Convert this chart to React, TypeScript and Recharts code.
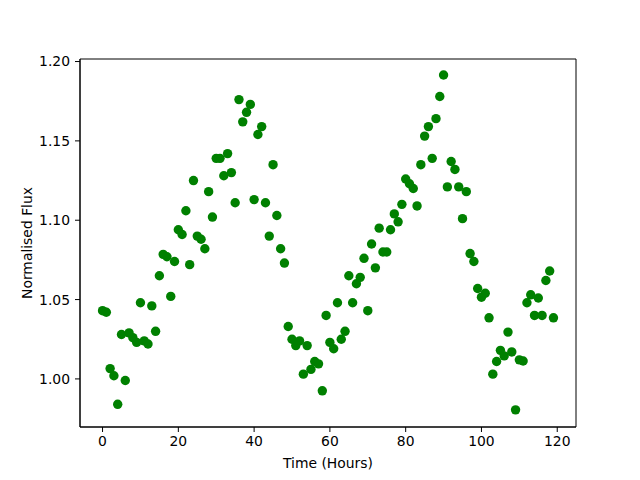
import { ScatterChart, Scatter, XAxis, YAxis, ReferenceArea } from "recharts";

const hours = [
  0, 1, 2, 3, 4, 5, 6, 7, 8, 9, 10, 11, 12, 13, 14, 15, 16, 17, 18, 19,
  20, 21, 22, 23, 24, 25, 26, 27, 28, 29, 30, 31, 32, 33, 34, 35, 36, 37, 38, 39,
  40, 41, 42, 43, 44, 45, 46, 47, 48, 49, 50, 51, 52, 53, 54, 55, 56, 57, 58, 59,
  60, 61, 62, 63, 64, 65, 66, 67, 68, 69, 70, 71, 72, 73, 74, 75, 76, 77, 78, 79,
  80, 81, 82, 83, 84, 85, 86, 87, 88, 89, 90, 91, 92, 93, 94, 95, 96, 97, 98, 99,
  100, 101, 102, 103, 104, 105, 106, 107, 108, 109, 110, 111, 112, 113, 114, 115, 116, 117, 118, 119,
];

const flux = [
  1.043, 1.042, 1.0065, 1.002, 0.984, 1.028, 0.999, 1.029, 1.026, 1.023,
  1.048, 1.024, 1.022, 1.046, 1.03, 1.065, 1.0785, 1.077, 1.052, 1.074,
  1.094, 1.091, 1.106, 1.072, 1.125, 1.09, 1.088, 1.082, 1.118, 1.102,
  1.139, 1.139, 1.128, 1.142, 1.13, 1.111, 1.176, 1.162, 1.168, 1.173,
  1.113, 1.154, 1.159, 1.111, 1.09, 1.135, 1.103, 1.082, 1.073, 1.033,
  1.025, 1.021, 1.024, 1.003, 1.021, 1.006, 1.011, 1.0095, 0.9925, 1.04,
  1.023, 1.019, 1.048, 1.025, 1.03, 1.065, 1.048, 1.06, 1.064, 1.076,
  1.043, 1.085, 1.07, 1.095, 1.08, 1.08, 1.094, 1.104, 1.099, 1.11,
  1.126, 1.123, 1.12, 1.109, 1.135, 1.153, 1.159, 1.139, 1.164, 1.178,
  1.1915, 1.121, 1.137, 1.132, 1.121, 1.101, 1.118, 1.079, 1.074, 1.057,
  1.0515, 1.054, 1.0385, 1.003, 1.011, 1.018, 1.0145, 1.0295, 1.017, 0.9805,
  1.012, 1.0113, 1.048, 1.053, 1.04, 1.051, 1.04, 1.062, 1.068, 1.0385,
];

const xTicks = [0, 20, 40, 60, 80, 100, 120];
const yTicks = [1.0, 1.05, 1.1, 1.15, 1.2];

const xDomain = [-5.95, 124.95];
const yDomain = [0.9697, 1.2016];

const data = hours.map((t, i) => ({ t, flux: flux[i] }));

const font = "DejaVu Sans, sans-serif";

const Dot = (props: any) => (
  <circle cx={props.cx} cy={props.cy} r={4.7} fill="#008000" />
);

const YLabel = (props: any) => {
  const vb = props.viewBox;
  const cy = vb.y + vb.height / 2;
  return (
    <text
      x={27}
      y={cy}
      transform={`rotate(-90, 27, ${cy})`}
      textAnchor="middle"
      dominantBaseline="central"
      fontFamily={font}
      fontSize={13.9}
      fill="#000"
    >
      Normalised Flux
    </text>
  );
};

const XLabel = (props: any) => {
  const vb = props.viewBox;
  return (
    <text
      x={vb.x + vb.width / 2}
      y={vb.y + 36}
      textAnchor="middle"
      dominantBaseline="central"
      fontFamily={font}
      fontSize={13.9}
      fill="#000"
    >
      Time (Hours)
    </text>
  );
};

export default function App() {
  const tick = { fill: "#000", fontSize: 13.9, fontFamily: font };
  return (
    <div style={{ position: "absolute", left: 0, top: 0, background: "#fff" }}>
      <ScatterChart
        width={640}
        height={480}
        margin={{ top: 59, right: 64, bottom: 0, left: 0 }}
      >
        <XAxis
          type="number"
          dataKey="t"
          domain={xDomain}
          ticks={xTicks}
          allowDataOverflow
          height={53}
          tick={tick}
          tickSize={5}
          tickMargin={4}
          tickLine={{ stroke: "#000" }}
          axisLine={{ stroke: "#000" }}
          label={<XLabel />}
        />
        <YAxis
          type="number"
          dataKey="flux"
          domain={yDomain}
          ticks={yTicks}
          allowDataOverflow
          width={80}
          tick={tick}
          tickSize={5}
          tickMargin={5}
          tickLine={{ stroke: "#000" }}
          axisLine={{ stroke: "#000" }}
          tickFormatter={(v) => Number(v).toFixed(2)}
          label={<YLabel />}
        />
        <ReferenceArea
          x1={xDomain[0]}
          x2={xDomain[1]}
          y1={yDomain[0]}
          y2={yDomain[1]}
          fill="none"
          stroke="#000"
          strokeWidth={1}
          ifOverflow="visible"
        />
        <Scatter data={data} shape={<Dot />} isAnimationActive={false} />
      </ScatterChart>
    </div>
  );
}
